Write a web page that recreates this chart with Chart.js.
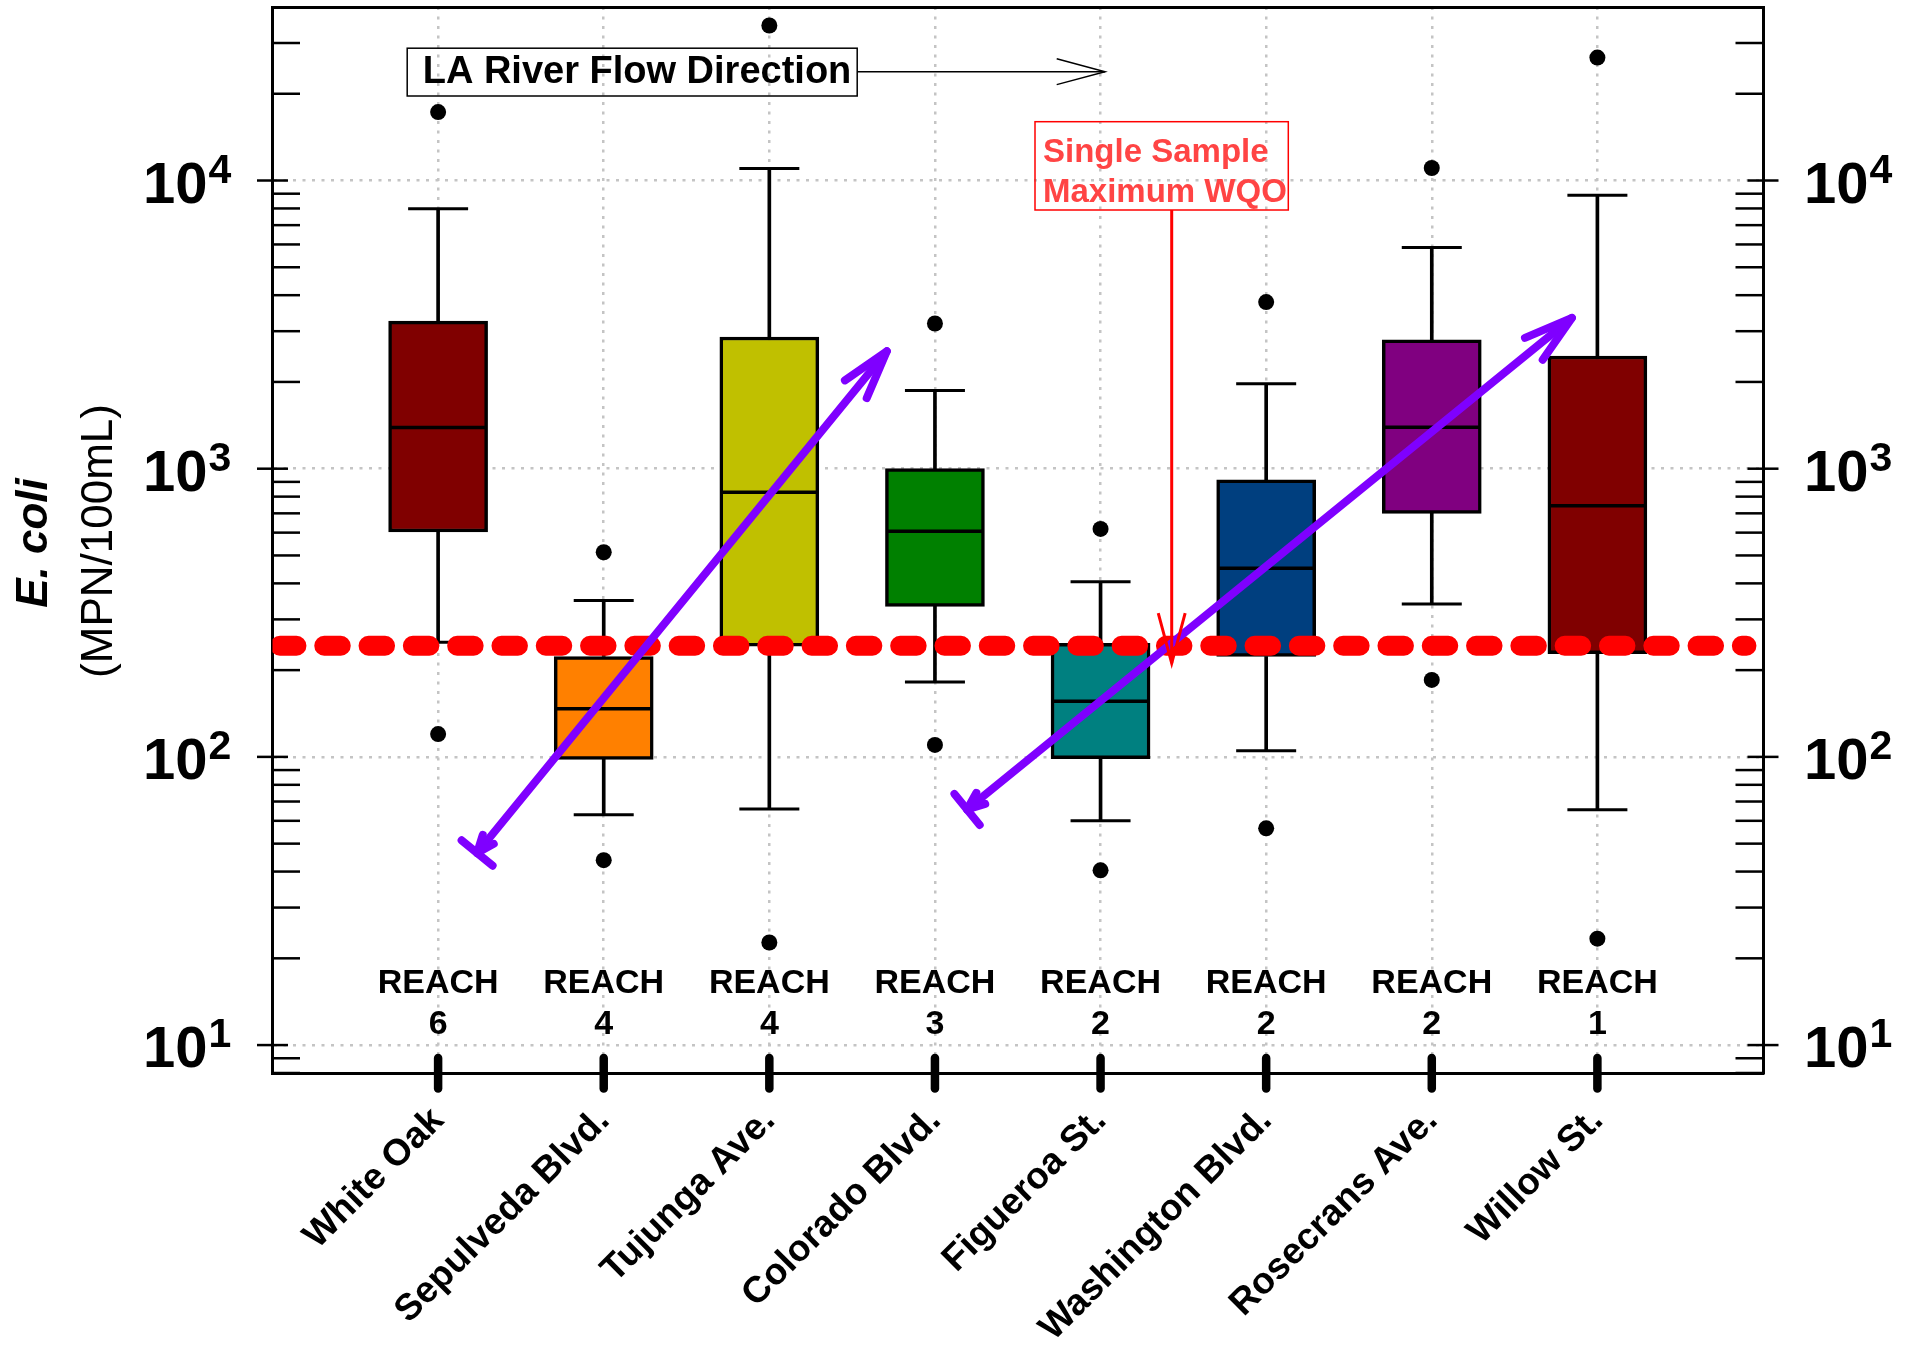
<!DOCTYPE html>
<html>
<head>
<meta charset="utf-8">
<script src="https://cdn.jsdelivr.net/npm/chart.js@4.4.1/dist/chart.umd.min.js"></script>
<style>
  html, body { margin: 0; padding: 0; background: #fff; }
  #wrap { width: 1919px; height: 1356px; }
</style>
</head>
<body>
<div id="wrap"><canvas id="chart"></canvas></div>
<script>
// E. coli por estação - boxplots
const sites = ["White Oak", "Sepulveda Blvd.", "Tujunga Ave.", "Colorado Blvd.",
  "Figueroa St.", "Washington Blvd.", "Rosecrans Ave.", "Willow St."];
const reaches = ["6", "4", "4", "3", "2", "2", "2", "1"];
const whiskerLow = [250, 63, 66, 182, 60, 105, 339, 65.5];
const q1 = [603, 98, 242, 333, 98.6, 223, 700, 228];
const median = [1390, 147, 828, 607, 156, 451, 1393, 743];
const q3 = [3250, 223, 2865, 1000, 248, 914, 2800, 2460];
const whiskerHigh = [7980, 349, 11000, 1866, 405, 1972, 5850, 8890];
const outlierLow = [120, 43.8, 22.7, 110, 40.4, 56.5, 185, 23.4];
const outlierHigh = [17270, 513, 34500, 3190, 618, 3785, 11050, 26700];
const boxColors = ["#800000", "#ff8000", "#c0c000", "#008000",
  "#008080", "#003f7f", "#800080", "#800000"];
const wqo = 243;
const decades = [10, 100, 1000, 10000];
const decadeExp = ["1", "2", "3", "4"];
// setas roxas: [x, y] em coordenadas dos dados
const arrowFrom = [[0.2355, 46.4], [3.194, 65.7]];
const arrowTo = [[2.7095, 2555], [6.846, 3337]];

const yMin = 8, yMax = 40000;
const FONT = "'Liberation Sans', Arial, Helvetica, sans-serif";

function seg(ctx, x1, y1, x2, y2) {
  ctx.beginPath();
  ctx.moveTo(x1, y1);
  ctx.lineTo(x2, y2);
  ctx.stroke();
}

function head(ctx, fromX, fromY, tipX, tipY, len, deg) {
  const a = Math.atan2(fromY - tipY, fromX - tipX);
  const d = deg * Math.PI / 180;
  ctx.beginPath();
  ctx.moveTo(tipX + len * Math.cos(a + d), tipY + len * Math.sin(a + d));
  ctx.lineTo(tipX, tipY);
  ctx.lineTo(tipX + len * Math.cos(a - d), tipY + len * Math.sin(a - d));
  ctx.stroke();
}

const decorPlugin = {
  id: "decor",
  afterDatasetsDraw(chart) {
    const ctx = chart.ctx;
    const xs = chart.scales.x, ys = chart.scales.y;
    ctx.save();

    // setas roxas
    ctx.strokeStyle = "#7f00ff";
    ctx.lineWidth = 8;
    ctx.lineCap = "round";
    ctx.lineJoin = "round";
    arrowFrom.forEach((f, i) => {
      const x1 = xs.getPixelForValue(f[0]), y1 = ys.getPixelForValue(f[1]);
      const x2 = xs.getPixelForValue(arrowTo[i][0]), y2 = ys.getPixelForValue(arrowTo[i][1]);
      seg(ctx, x1, y1, x2, y2);
      head(ctx, x1, y1, x2, y2, 51, 16);
      head(ctx, x2, y2, x1, y1, 19, 22);
      const a = Math.atan2(y2 - y1, x2 - x1) + Math.PI / 2;
      seg(ctx, x1 - 20 * Math.cos(a), y1 - 20 * Math.sin(a), x1 + 20 * Math.cos(a), y1 + 20 * Math.sin(a));
    });
    ctx.restore();
  },
  afterDraw(chart) {
    const ctx = chart.ctx;
    const area = chart.chartArea;
    const xs = chart.scales.x, ys = chart.scales.y;
    ctx.save();

    // marcas do eixo y (esquerda e direita)
    ctx.strokeStyle = "#000";
    ctx.lineWidth = 2.5;
    ctx.lineCap = "butt";
    for (let e = 0; e <= 4; e++) {
      for (let m = 1; m <= 9; m++) {
        const v = m * Math.pow(10, e);
        if (v < yMin || v >= yMax) continue;
        const py = ys.getPixelForValue(v);
        if (m === 1) {
          seg(ctx, area.left - 15.5, py, area.left + 15.5, py);
          seg(ctx, area.right - 15.5, py, area.right + 15.5, py);
        } else {
          seg(ctx, area.left, py, area.left + 27.5, py);
          seg(ctx, area.right - 27.5, py, area.right, py);
        }
      }
    }

    // marcas grossas do eixo x
    ctx.lineWidth = 8.5;
    ctx.lineCap = "round";
    sites.forEach((s, i) => {
      const px = xs.getPixelForValue(i);
      seg(ctx, px, area.bottom - 15, px, area.bottom + 15.5);
    });

    // rótulos 10^n
    ctx.fillStyle = "#000";
    ctx.textBaseline = "alphabetic";
    decades.forEach((v, k) => {
      const py = ys.getPixelForValue(v);
      ctx.font = "bold 58px " + FONT;
      ctx.textAlign = "left";
      const wBase = ctx.measureText("10").width;
      ctx.fillText("10", 143, py + 22);
      ctx.fillText("10", 1804, py + 22);
      ctx.font = "bold 41px " + FONT;
      ctx.fillText(decadeExp[k], 143 + wBase + 1, py + 2);
      ctx.fillText(decadeExp[k], 1804 + wBase + 1, py + 2);
    });

    // REACH
    ctx.textAlign = "center";
    ctx.textBaseline = "middle";
    ctx.font = "bold 34px " + FONT;
    sites.forEach((s, i) => {
      const px = xs.getPixelForValue(i);
      ctx.fillText("REACH", px, 984);
      ctx.fillText(reaches[i], px, 1025);
    });

    // título do eixo y
    ctx.save();
    ctx.translate(35, 543);
    ctx.rotate(-Math.PI / 2);
    ctx.font = "italic bold 44px " + FONT;
    ctx.fillText("E. coli", 0, 0);
    ctx.restore();
    ctx.save();
    ctx.translate(100, 541);
    ctx.rotate(-Math.PI / 2);
    ctx.font = "44px " + FONT;
    ctx.fillText("(MPN/100mL)", 0, 0);
    ctx.restore();

    // LA River Flow Direction
    ctx.strokeStyle = "#000";
    ctx.lineWidth = 1.5;
    ctx.lineCap = "butt";
    ctx.strokeRect(407.2, 48.2, 450, 47.8);
    ctx.font = "bold 38px " + FONT;
    ctx.fillText("LA River Flow Direction", 637, 73);
    seg(ctx, 857.3, 71.7, 1105, 71.7);
    head(ctx, 857.3, 71.7, 1105, 71.7, 50, 15);

    // Single Sample Maximum WQO
    ctx.strokeStyle = "#ff0000";
    ctx.strokeRect(1035, 121.7, 253.3, 88.3);
    ctx.fillStyle = "#ff4444";
    ctx.textAlign = "left";
    ctx.textBaseline = "alphabetic";
    ctx.font = "bold 33px " + FONT;
    ctx.fillText("Single Sample", 1043, 161.7);
    ctx.fillText("Maximum WQO", 1043, 202.3);
    ctx.lineWidth = 3;
    seg(ctx, 1171.7, 210, 1171.7, 663.3);
    head(ctx, 1171.7, 210, 1171.7, 663.3, 52, 15);

    ctx.restore();
  }
};

const boxData = sites.map((s, i) => ({ x: i, y: [q1[i], q3[i]] }));
const lowWhiskers = sites.map((s, i) => ({ x: i, y: [whiskerLow[i], q1[i]] }));
const highWhiskers = sites.map((s, i) => ({ x: i, y: [q3[i], whiskerHigh[i]] }));
const caps = whiskerLow.map((v, i) => ({ x: i, y: v }))
  .concat(whiskerHigh.map((v, i) => ({ x: i, y: v })));
const medians = median.map((v, i) => ({ x: i, y: v }));
const outliers = outlierLow.map((v, i) => ({ x: i, y: v }))
  .concat(outlierHigh.map((v, i) => ({ x: i, y: v })));

const gridColor = "#c4c4c4";

new Chart(document.getElementById("chart"), {
  type: "bar",
  data: {
    datasets: [
      {
        type: "line",
        data: [{ x: -0.955, y: wqo }, { x: 7.9, y: wqo }],
        borderColor: "#ff0000",
        borderWidth: 20,
        borderDash: [16.5, 27.8],
        borderCapStyle: "round",
        pointRadius: 0,
        order: 0,
      },
      {
        type: "scatter",
        data: outliers,
        pointRadius: 8,
        backgroundColor: "#000",
        borderWidth: 0,
        order: 1,
      },
      {
        type: "scatter",
        data: medians,
        pointStyle: "line",
        pointRadius: 48,
        borderColor: "#000",
        borderWidth: 3.5,
        order: 2,
      },
      {
        type: "scatter",
        data: caps,
        pointStyle: "line",
        pointRadius: 30,
        borderColor: "#000",
        borderWidth: 3,
        order: 3,
      },
      {
        type: "bar",
        data: boxData,
        backgroundColor: boxColors,
        borderColor: "#000",
        borderWidth: 3.5,
        borderSkipped: false,
        barThickness: 99,
        grouped: false,
        order: 4,
      },
      {
        type: "bar",
        data: lowWhiskers,
        backgroundColor: "#000",
        barThickness: 3,
        grouped: false,
        order: 5,
      },
      {
        type: "bar",
        data: highWhiskers,
        backgroundColor: "#000",
        barThickness: 3,
        grouped: false,
        order: 5,
      },
    ],
  },
  options: {
    responsive: true,
    maintainAspectRatio: false,
    animation: false,
    layout: { padding: 0, autoPadding: false },
    plugins: { legend: { display: false }, tooltip: { enabled: false } },
    scales: {
      x: {
        type: "linear",
        position: "bottom",
        min: -1,
        max: 8,
        offset: false,
        afterBuildTicks: (scale) => {
          scale.ticks = sites.map((s, i) => ({ value: i }));
        },
        afterFit: (scale) => { scale.height = 283; },
        ticks: {
          callback: (v, i) => sites[i],
          autoSkip: false,
          minRotation: 45,
          maxRotation: 45,
          padding: 26,
          color: "#000",
          font: { family: FONT, size: 37, weight: "bold" },
        },
        grid: { offset: false, color: gridColor, lineWidth: 2.5, drawTicks: false },
        border: { color: "#000", width: 3, dash: [3, 6.5] },
      },
      xTop: {
        type: "linear",
        position: "top",
        min: -1,
        max: 8,
        afterFit: (scale) => { scale.height = 7; },
        ticks: { display: false },
        grid: { drawOnChartArea: false, drawTicks: false },
        border: { color: "#000", width: 3 },
      },
      y: {
        type: "logarithmic",
        position: "left",
        min: yMin,
        max: yMax,
        beginAtZero: false,
        afterBuildTicks: (scale) => {
          scale.ticks = decades.map((v) => ({ value: v }));
        },
        afterFit: (scale) => { scale.width = 272.5; },
        ticks: { display: false },
        grid: { color: gridColor, lineWidth: 2.5, drawTicks: false },
        border: { color: "#000", width: 3, dash: [3, 6.5] },
      },
      yRight: {
        type: "logarithmic",
        position: "right",
        min: yMin,
        max: yMax,
        afterFit: (scale) => { scale.width = 156; },
        ticks: { display: false },
        grid: { drawOnChartArea: false, drawTicks: false },
        border: { color: "#000", width: 3 },
      },
    },
  },
  plugins: [decorPlugin],
});
</script>
</body>
</html>
